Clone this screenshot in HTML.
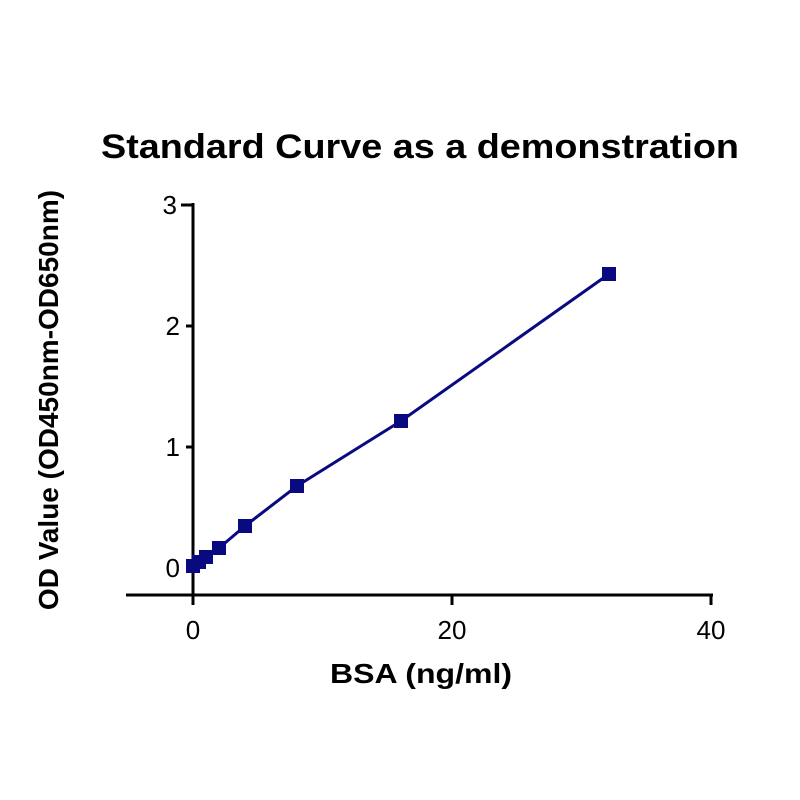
<!DOCTYPE html>
<html><head><style>body{margin:0;background:#fff}svg{display:block}</style></head><body>
<svg width="800" height="800" viewBox="0 0 800 800" font-family="Liberation Sans, Arial, sans-serif" font-weight="bold">
<rect width="800" height="800" fill="#fff"/>
<text x="420" y="158" text-anchor="middle" font-size="34" textLength="638" lengthAdjust="spacingAndGlyphs">Standard Curve as a demonstration</text>
<g stroke="#000" stroke-width="3" fill="none">
<line x1="193" y1="203" x2="193" y2="595"/>
<line x1="126" y1="595" x2="713" y2="595"/>
<line x1="181" y1="205" x2="193" y2="205"/>
<line x1="186" y1="326" x2="193" y2="326"/>
<line x1="186" y1="447" x2="193" y2="447"/>
<line x1="186" y1="568" x2="193" y2="568"/>
<line x1="193" y1="595" x2="193" y2="605"/>
<line x1="452" y1="595" x2="452" y2="605"/>
<line x1="711" y1="595" x2="711" y2="605"/>
</g>
<g font-size="26" font-weight="normal" text-anchor="end">
<text x="177" y="214">3</text><text x="180" y="335">2</text><text x="180" y="456">1</text><text x="180" y="577">0</text>
</g>
<g font-size="26" font-weight="normal" text-anchor="middle">
<text x="193" y="639">0</text><text x="452" y="639">20</text><text x="711" y="639">40</text>
</g>
<text x="421" y="683" text-anchor="middle" font-size="28" textLength="182" lengthAdjust="spacingAndGlyphs">BSA (ng/ml)</text>
<text transform="translate(58,400) rotate(-90)" text-anchor="middle" font-size="28">OD Value (OD450nm-OD650nm)</text>
<polyline fill="none" stroke="#0a0a80" stroke-width="3" points="193,566 199,562 206,557 219,548 245,526 297,486 401,421 609,274"/>
<g fill="#0a0a80">
<rect x="186" y="559" width="14" height="14"/>
<rect x="192" y="555" width="14" height="14"/>
<rect x="199" y="550" width="14" height="14"/>
<rect x="212" y="541" width="14" height="14"/>
<rect x="238" y="519" width="14" height="14"/>
<rect x="290" y="479" width="14" height="14"/>
<rect x="394" y="414" width="14" height="14"/>
<rect x="602" y="267" width="14" height="14"/>
</g>
</svg>
</body></html>
